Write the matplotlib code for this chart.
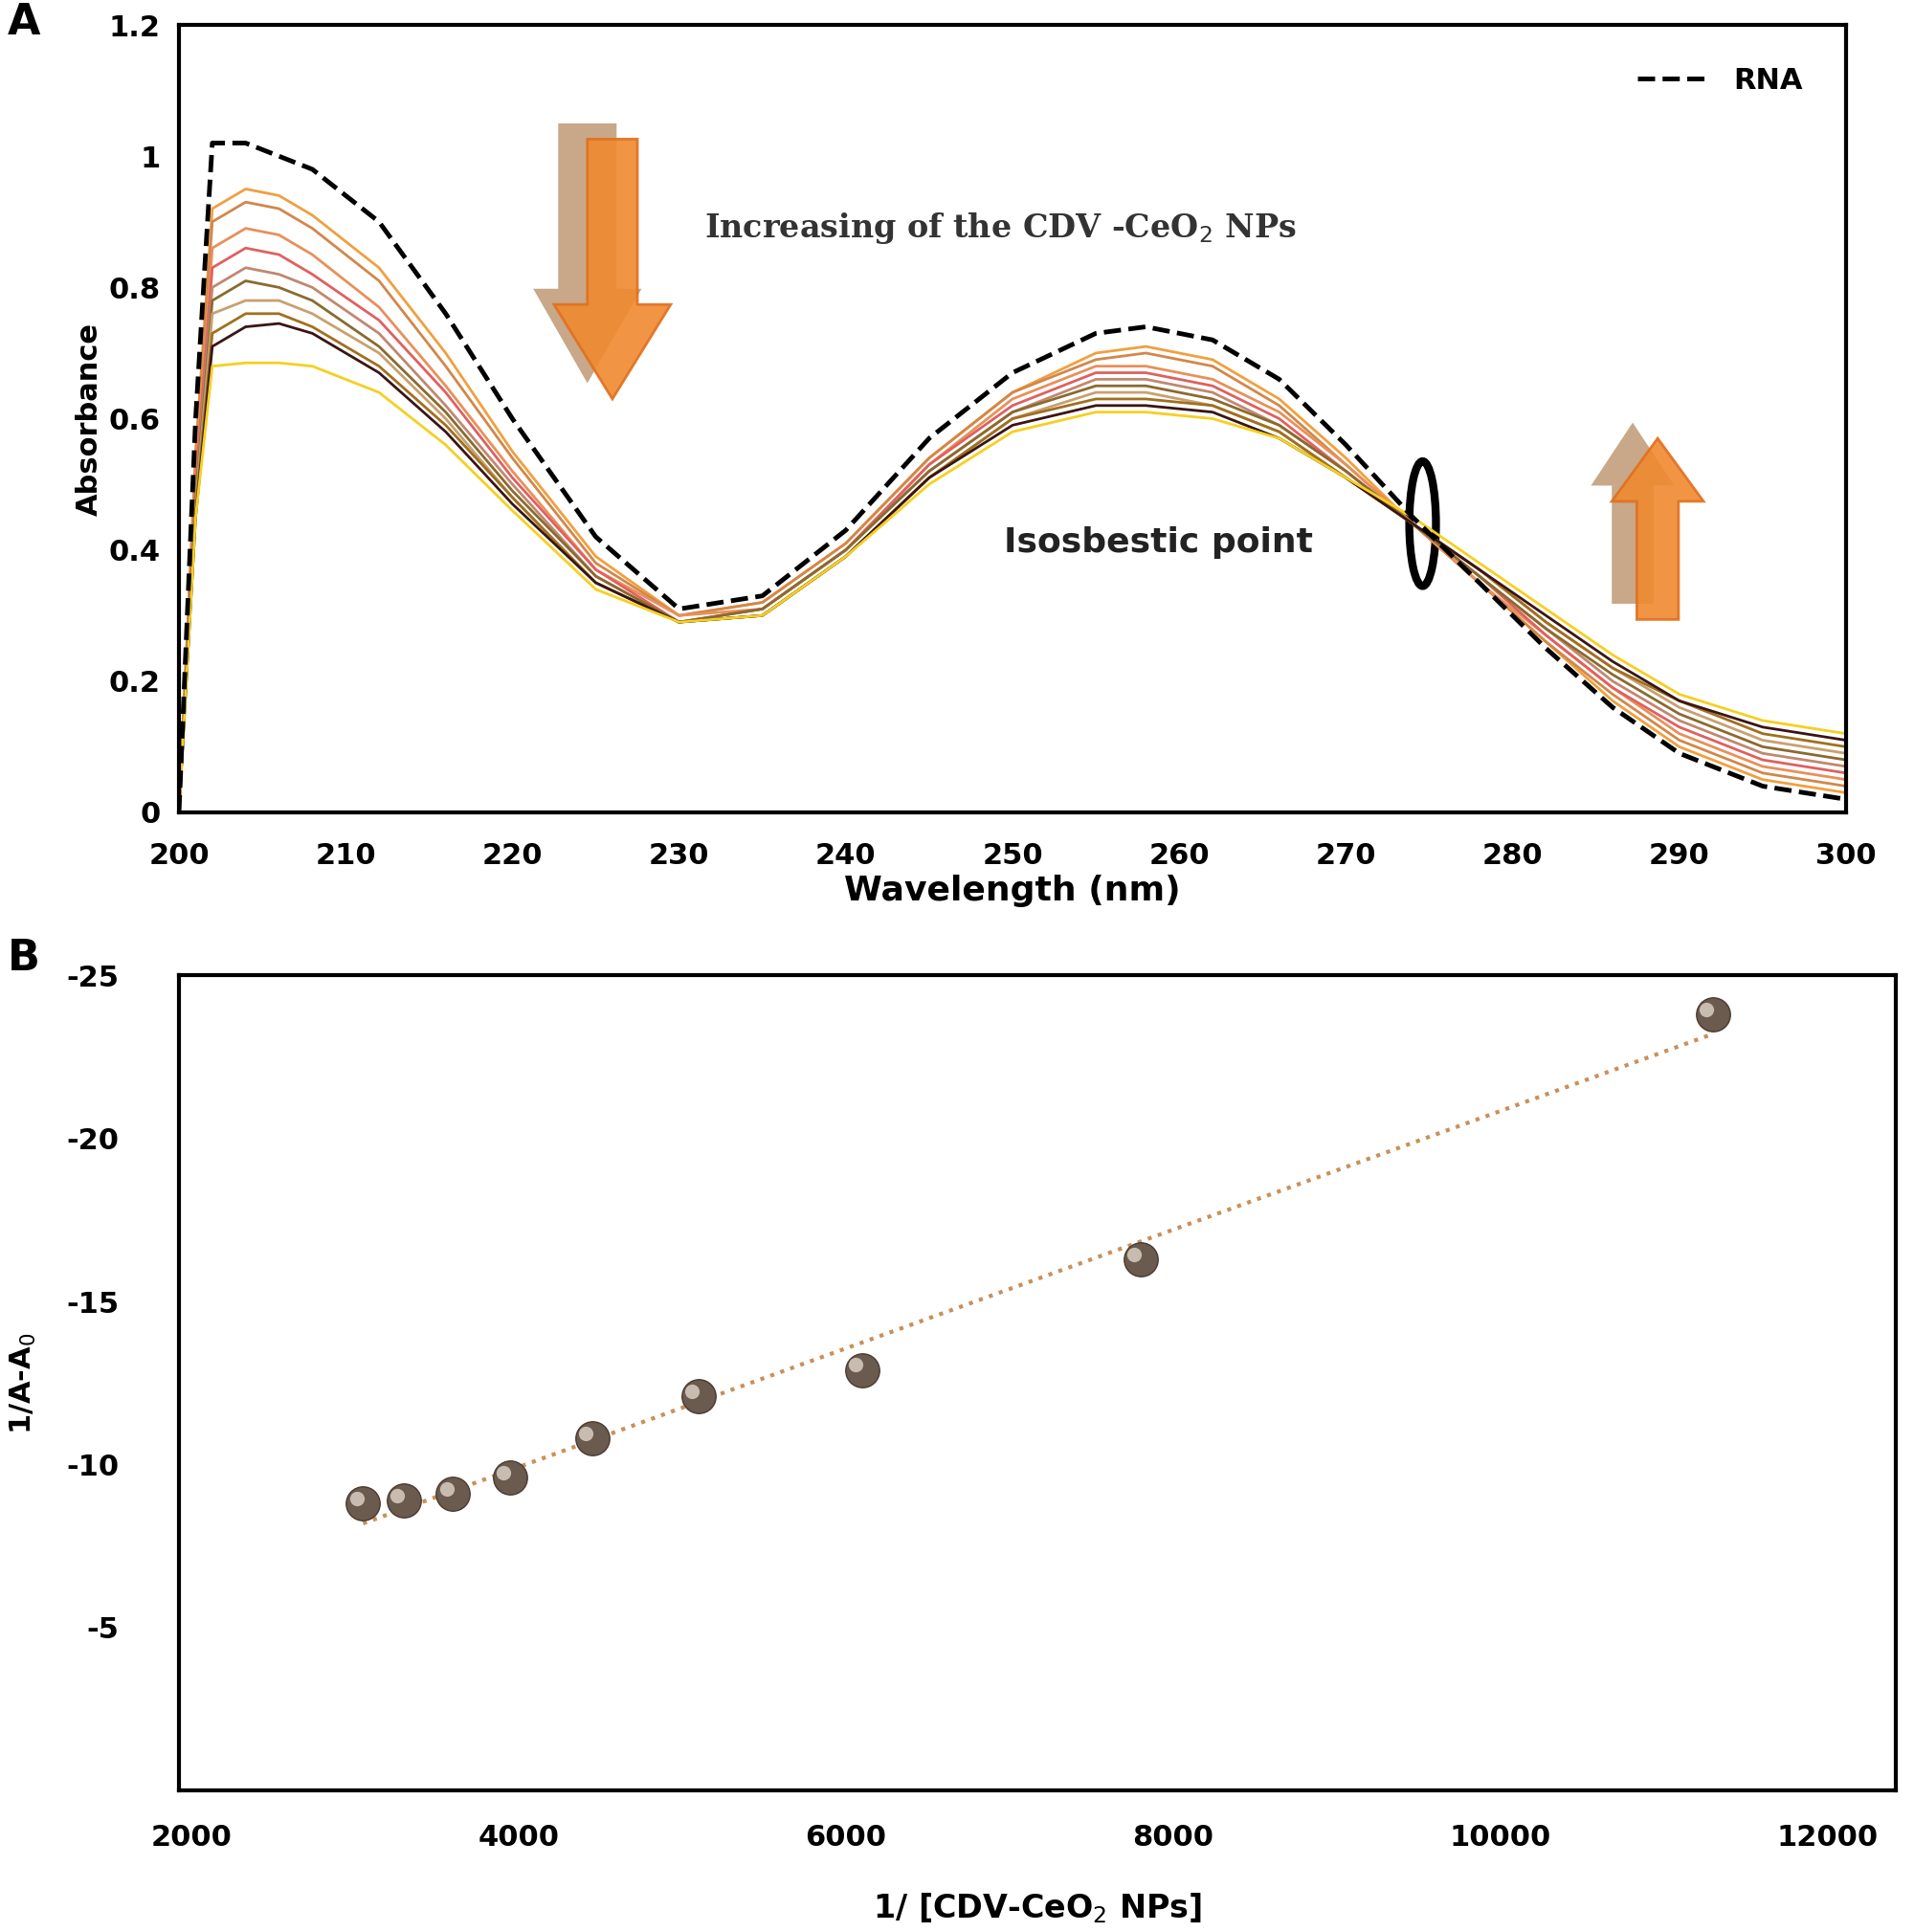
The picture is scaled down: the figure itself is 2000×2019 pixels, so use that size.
import numpy as np
import matplotlib.pyplot as plt
from matplotlib.patches import FancyArrow, Ellipse

plt.rcParams['axes.unicode_minus'] = False

# ---- panel A data: absorbance spectra ----
wl = [200, 201, 202, 204, 206, 208, 212, 216, 220, 225, 230, 235, 240, 245,
      250, 255, 258, 262, 266, 270, 274, 278, 282, 286, 290, 295, 300]
rna = [0, 0.6, 1.02, 1.02, 1.00, 0.98, 0.90, 0.76, 0.60, 0.42, 0.31, 0.33, 0.43, 0.57,
       0.67, 0.73, 0.74, 0.72, 0.66, 0.56, 0.45, 0.35, 0.25, 0.16, 0.09, 0.04, 0.02]
spectra = [
    [0, .55, .92, .95, .94, .91, .83, .70, .55, .39, .30, .32, .41, .54, .64, .70, .71, .69, .63, .54, .44, .35, .26, .17, .10, .05, .03],
    [0, .54, .90, .93, .92, .89, .81, .68, .54, .38, .30, .32, .41, .54, .64, .69, .70, .68, .62, .53, .44, .35, .26, .18, .11, .06, .04],
    [0, .52, .86, .89, .88, .85, .77, .65, .52, .37, .30, .31, .40, .53, .63, .68, .68, .66, .61, .53, .44, .35, .27, .19, .12, .07, .05],
    [0, .50, .83, .86, .85, .82, .75, .64, .51, .37, .29, .31, .40, .53, .62, .67, .67, .65, .60, .52, .44, .36, .27, .19, .13, .08, .06],
    [0, .49, .80, .83, .82, .80, .73, .62, .50, .36, .29, .31, .40, .52, .61, .66, .66, .64, .59, .52, .44, .36, .28, .20, .14, .09, .07],
    [0, .48, .78, .81, .80, .78, .71, .61, .49, .36, .29, .31, .40, .52, .61, .65, .65, .63, .59, .52, .44, .36, .28, .21, .15, .10, .08],
    [0, .47, .76, .78, .78, .76, .70, .60, .48, .35, .29, .30, .39, .51, .60, .64, .64, .62, .58, .51, .44, .37, .29, .22, .16, .11, .09],
    [0, .46, .73, .76, .76, .74, .68, .59, .48, .35, .29, .30, .39, .51, .60, .63, .63, .62, .58, .51, .44, .37, .29, .22, .17, .12, .10],
    [0, .45, .71, .74, .745, .73, .67, .58, .47, .35, .29, .30, .39, .51, .59, .62, .62, .61, .57, .51, .44, .37, .30, .23, .17, .13, .11],
    [0, .45, .68, .685, .685, .68, .64, .56, .46, .34, .29, .30, .39, .50, .58, .61, .61, .60, .57, .51, .45, .38, .31, .24, .18, .14, .12],
]
spec_colors = ['#f0a040', '#d2874a', '#e8905a', '#e06060', '#c08870',
               '#8a6a30', '#c8a070', '#a07020', '#3a1515', '#f5d020']

# ---- panel B data ----
inv_conc = [3050, 3300, 3600, 3950, 4450, 5100, 6100, 7800, 11300]
inv_dA = [-8.8, -8.9, -9.1, -9.6, -10.8, -12.1, -12.9, -16.3, -23.8]

fig = plt.figure(figsize=(20, 20.19), dpi=100)
axA = fig.add_axes([0.0935, 0.5795, 0.871, 0.4076])
axB = fig.add_axes([0.0935, 0.0733, 0.897, 0.4218])

for ys, c in zip(spectra, spec_colors):
    axA.plot(wl, ys, color=c, lw=2)
axA.plot(wl, rna, 'k--', lw=3.5, label='RNA')
axA.set_xlim(200, 300)
axA.set_ylim(0, 1.2)
axA.set_xticks(range(200, 301, 10))
axA.set_yticks([0, 0.2, 0.4, 0.6, 0.8, 1, 1.2])
axA.set_yticklabels(['0', '0.2', '0.4', '0.6', '0.8', '1', '1.2'])
axA.set_xlabel('Wavelength (nm)', fontsize=26, fontweight='bold')
axA.set_ylabel('Absorbance', fontsize=22, fontweight='bold')
axA.legend(loc='upper right', frameon=False, handlelength=2.5,
           prop={'weight': 'bold', 'size': 22}, bbox_to_anchor=(0.99, 0.98))

# down arrows
axA.add_patch(FancyArrow(0.245, 0.875, 0, -0.21, width=0.035, head_width=0.065,
                         head_length=0.12, transform=axA.transAxes, color='#c8a888', lw=0))
axA.add_patch(FancyArrow(0.26, 0.855, 0, -0.21, width=0.03, head_width=0.07,
                         head_length=0.12, transform=axA.transAxes, color='#f08a30',
                         ec='#e07020', lw=2, alpha=0.9))
# up arrows
axA.add_patch(FancyArrow(0.872, 0.265, 0, 0.15, width=0.025, head_width=0.05,
                         head_length=0.08, transform=axA.transAxes, color='#c8a888', lw=0))
axA.add_patch(FancyArrow(0.887, 0.245, 0, 0.15, width=0.025, head_width=0.055,
                         head_length=0.08, transform=axA.transAxes, color='#f08a30',
                         ec='#e07020', lw=2, alpha=0.9))
axA.text(0.315, 0.73, 'Increasing of the CDV -CeO$_2$ NPs', transform=axA.transAxes,
         fontsize=24, fontweight='bold', family='serif', color='#333333')
axA.text(0.495, 0.33, 'Isosbestic point', transform=axA.transAxes,
         fontsize=26, fontweight='bold', color='#222222')
axA.add_patch(Ellipse((274.6, 0.44), 1.6, 0.19, fill=False, ec='black', lw=6))

# panel B
fit = np.polyfit(inv_conc, inv_dA, 1)
xf = np.array([inv_conc[0], inv_conc[-1]])
axB.plot(xf, np.polyval(fit, xf), ':', color='#c8905a', lw=3)
axB.scatter(inv_conc, inv_dA, s=650, color='#6b5a4e', edgecolor='#4a3a30', zorder=3)
axB.scatter(np.array(inv_conc) - 40, np.array(inv_dA) - 0.15, s=120, color='#c8bcb0',
            zorder=4, lw=0)
axB.set_xlim(1925, 12415)
axB.set_ylim(0, -25)
axB.set_yticks([-5, -10, -15, -20, -25])
axB.set_xticks(range(2000, 12001, 2000))
axB.set_xlabel('1/ [CDV-CeO$_2$ NPs]', fontsize=24, fontweight='bold', labelpad=30)
axB.set_ylabel('1/A-A$_0$', fontsize=22, fontweight='bold')

for ax in (axA, axB):
    for s in ax.spines.values():
        s.set_linewidth(3)
    ax.tick_params(length=0, labelsize=22, pad=14)
    for t in ax.get_xticklabels() + ax.get_yticklabels():
        t.set_fontweight('bold')
axA.tick_params(axis='x', pad=22)
axB.tick_params(axis='y', pad=45)
axB.tick_params(axis='x', pad=25)
axB.yaxis.set_label_coords(-0.082, 0.5)

fig.text(0.004, 0.982, 'A', fontsize=32, fontweight='bold')
fig.text(0.004, 0.498, 'B', fontsize=32, fontweight='bold')
fig.savefig('out.png', dpi=100)
